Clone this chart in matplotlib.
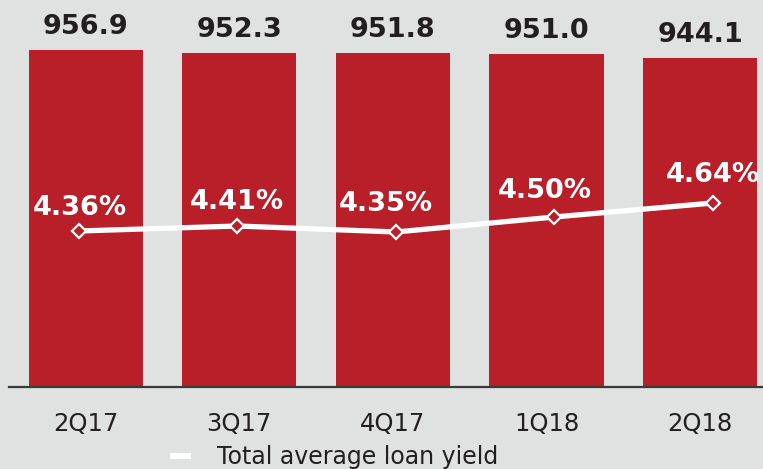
import matplotlib
matplotlib.use("Agg")
import matplotlib.pyplot as plt
from matplotlib.lines import Line2D

# Quarterly data
quarters = ["2Q17", "3Q17", "4Q17", "1Q18", "2Q18"]
avg_loans = [956.9, 952.3, 951.8, 951.0, 944.1]
loan_yield = [4.36, 4.41, 4.35, 4.50, 4.64]
legend_label = "Total average loan yield"

# Styling
BG = "#e0e2e1"
RED = "#b91f29"
DARK = "#231f20"
plt.rcParams["font.family"] = ["DejaVu Sans"]

fig = plt.figure(figsize=(7.63, 4.69), dpi=100)
fig.patch.set_facecolor(BG)

W, H = 763, 469
ax_rect = [9 / W, (H - 387) / H, 754 / W, 387 / H]
ax = fig.add_axes(ax_rect)
ax.set_facecolor(BG)

x = list(range(len(quarters)))
ax.bar(x, avg_loans, width=0.743, color=RED, zorder=2)
ax.set_xlim(-0.50, 4.41)
ax.set_ylim(453.5, 1031)

for s in ["top", "left", "right"]:
    ax.spines[s].set_visible(False)
ax.spines["bottom"].set_color("#3a3a3a")
ax.spines["bottom"].set_linewidth(1.6)
ax.set_yticks([])
ax.set_xticks(x)
ax.set_xticklabels(quarters, fontsize=17.5, color=DARK)
ax.tick_params(axis="x", length=0, pad=18)

px = 72 / 100  # pixels -> points
for xi, v in zip(x, avg_loans):
    ax.annotate(f"{v:.1f}", (xi, v), xytext=(0, 16 * px), textcoords="offset points",
                ha="center", va="baseline", fontsize=19.5, fontweight="bold",
                color=DARK, zorder=5)

# Yield line on its own overlay axes
ax2 = fig.add_axes(ax_rect)
ax2.set_axis_off()
ax2.patch.set_alpha(0)
ax2.set_xlim(-0.4416, 4.316)
ax2.set_ylim(2.80, 6.67)
ax2.plot(x, loan_yield, color="white", lw=3.8, marker="D", ms=7.6,
         mfc=RED, mec="white", mew=1.6, zorder=3, solid_capstyle="butt")

pct_offsets = [(1, 16), (-1, 17), (-10, 21), (-10, 19), (0, 21)]
for xi, v, (dx, dy) in zip(x, loan_yield, pct_offsets):
    ax2.annotate(f"{v:.2f}%", (xi, v), xytext=(dx * px, dy * px), textcoords="offset points",
                 ha="center", va="baseline", fontsize=19.5, fontweight="bold",
                 color="white", zorder=5)

handle = Line2D([], [], color="white", lw=4.5, solid_capstyle="butt")
fig.legend([handle], [legend_label], loc="upper left",
           bbox_to_anchor=(170 / W, (H - 445) / H), bbox_transform=fig.transFigure,
           frameon=False, borderpad=0, borderaxespad=0, handlelength=0.9,
           handletextpad=1.1, fontsize=17, labelcolor=DARK)

fig.savefig("out.png", dpi=100, facecolor=BG)
